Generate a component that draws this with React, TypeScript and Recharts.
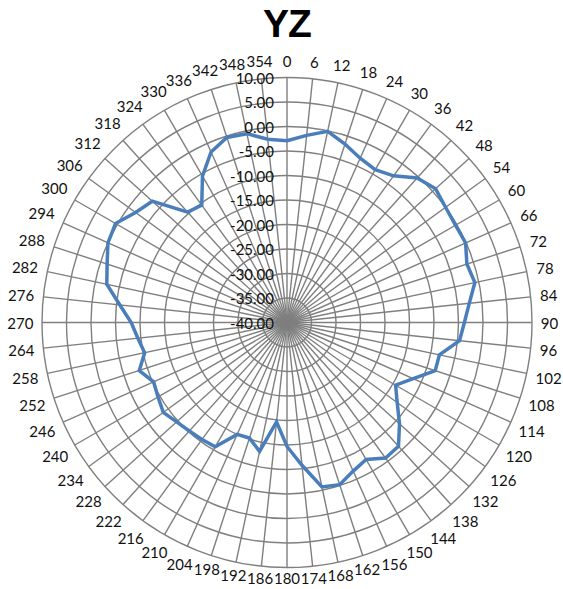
import { RadarChart, Radar, PolarGrid, PolarAngleAxis, PolarRadiusAxis } from "recharts";

const angles = [
  0, 6, 12, 18, 24, 30, 36, 42, 48, 54, 60, 66, 72, 78, 84, 90, 96, 102, 108, 114,
  120, 126, 132, 138, 144, 150, 156, 162, 168, 174, 180, 186, 192, 198, 204, 210,
  216, 222, 228, 234, 240, 246, 252, 258, 264, 270, 276, 282, 288, 294, 300, 306,
  312, 318, 324, 330, 336, 342, 348, 354,
];

const yzValues = [
  -2.9, -1.6, -0.1, -1.7, -3.3, -4.0, -3.0, -0.3, 0.8, 0.0, -0.3, -0.1, -1.4, -0.8, -2.6,
  -3.8, -4.6, -8.2, -8.2, -11.8, -14.4, -12.2, -9.1, -6.0, -5.8, -7.7, -6.8, -5.2, -5.7,
  -10.7, -14.7, -19.6, -13.1, -15.2, -15.0, -10.7, -10.5, -10.2, -9.7, -8.8, -9.6, -10.2,
  -8.3, -10.3, -9.4, -8.2, -5.7, -2.4, -1.4, 0.0, 0.4, -1.8, -3.0, -9.7, -10.4, -5.5,
  -1.9, -0.3, -0.6, -2.4,
];

const radiusTicks = [-40, -35, -30, -25, -20, -15, -10, -5, 0, 5, 10];

const data = angles.map((a, i) => ({ angle: String(a), yz: yzValues[i] }));

const CX = 287;
const CY = 322.5;
const FONT = "Lato, 'Open Sans', sans-serif";

// label box sits just outside the ring, pushed out by its own half size
const AngleTick = (props: any) => {
  const { x, y, payload } = props;
  const dx = x - CX;
  const dy = y - CY;
  const len = Math.hypot(dx, dy) || 1;
  const ux = dx / len;
  const uy = dy / len;
  const label = String(payload.value);
  const w = label.length * 8.4;
  const h = uy > 0.95 ? 3 : uy > 0 ? 11 : 15;
  const pad = 1 + (Math.abs(ux) * w) / 2 + (Math.abs(uy) * h) / 2;
  return (
    <text
      x={x + ux * pad}
      y={y + uy * pad}
      textAnchor="middle"
      dominantBaseline="central"
      fontFamily={FONT}
      fontSize={15}
      fill="#111"
    >
      {label}
    </text>
  );
};

const RadiusTick = (props: any) => {
  const { x, y, payload } = props;
  return (
    <text
      x={x - 13}
      y={y}
      textAnchor="end"
      dominantBaseline="central"
      fontFamily={FONT}
      fontSize={15}
      fill="#111"
    >
      {Number(payload.value).toFixed(2)}
    </text>
  );
};

export default function App() {
  return (
    <div style={{ position: "absolute", left: 0, top: 0, width: 563, height: 589, background: "#fff" }}>
      <div
        style={{
          position: "absolute",
          left: 0,
          width: 574,
          top: 2,
          textAlign: "center",
          fontFamily: "'Liberation Sans', Arial, sans-serif",
          fontWeight: 700,
          fontSize: 39,
          letterSpacing: -1,
          color: "#000",
        }}
      >
        YZ
      </div>
      <RadarChart
        width={563}
        height={589}
        data={data}
        cx={CX}
        cy={CY}
        outerRadius={245}
        margin={{ top: 0, right: 0, bottom: 0, left: 0 }}
      >
        <PolarGrid gridType="circle" stroke="#7f7f7f" strokeWidth={1.4} />
        <PolarAngleAxis
          dataKey="angle"
          tick={AngleTick}
          tickLine={false}
          axisLine={false}
        />
        <PolarRadiusAxis
          angle={90}
          type="number"
          domain={[-40, 10]}
          ticks={radiusTicks}
          tickCount={11}
          tick={RadiusTick}
          axisLine={false}
          tickLine={false}
        />
        <Radar
          dataKey="yz"
          stroke="#4a7ebb"
          strokeWidth={3.5}
          fill="none"
          fillOpacity={0}
          dot={false}
          isAnimationActive={false}
        />
      </RadarChart>
    </div>
  );
}
